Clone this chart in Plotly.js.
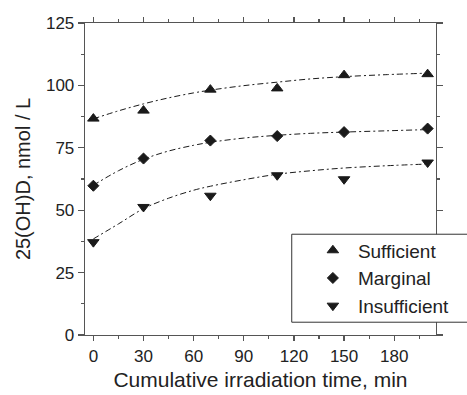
<!DOCTYPE html>
<html>
<head>
<meta charset="utf-8">
<script src="https://cdn.plot.ly/plotly-3.0.1.min.js"></script>
<style>html,body{margin:0;padding:0;background:#fff}#chart{width:467px;height:395px}</style>
</head>
<body>
<div id="chart"></div>
<script>
// Measured points
const timeMin = [0, 30, 70, 110, 150, 200];
const sufficient = [86.7, 89.9, 98.3, 98.8, 104.1, 104.5];
const marginal = [59.8, 70.7, 77.9, 79.7, 81.3, 82.7];
const insufficient = [37.2, 51.3, 55.8, 64.0, 62.4, 69.1];

// Fitted curves
const fitTime = [0, 15, 30, 45, 60, 70, 90, 110, 130, 150, 175, 200];
const sufficientFit = [86.6, 89.8, 92.6, 95.0, 97.0, 98.1, 99.9, 101.3, 102.6, 103.5, 104.3, 104.9];
const marginalFit = [60.0, 65.8, 70.4, 73.7, 76.0, 77.2, 78.9, 80.0, 80.8, 81.3, 81.8, 82.3];
const insufficientFit = [38.5, 44.5, 50.6, 54.8, 58.0, 59.6, 62.2, 64.4, 65.8, 66.9, 67.8, 68.5];

const xTicks = [0, 30, 60, 90, 120, 150, 180];
const yTicks = [0, 25, 50, 75, 100, 125];

const ink = '#1a1a1a';
const axisCol = '#555555';
const fitLine = {color: ink, width: 1, dash: '6px,3px,2px,3px', shape: 'spline'};

const traces = [
  {x: fitTime, y: sufficientFit, mode: 'lines', line: fitLine, showlegend: false, hoverinfo: 'skip'},
  {x: fitTime, y: marginalFit, mode: 'lines', line: fitLine, showlegend: false, hoverinfo: 'skip'},
  {x: fitTime, y: insufficientFit, mode: 'lines', line: fitLine, showlegend: false, hoverinfo: 'skip'},
  {x: timeMin, y: sufficient, mode: 'markers', name: 'Sufficient',
   marker: {symbol: 'triangle-up', size: 10, color: ink, line: {color: ink, width: 1}}},
  {x: timeMin, y: marginal, mode: 'markers', name: 'Marginal',
   marker: {symbol: 'diamond', size: 8.5, color: ink, line: {color: ink, width: 1}}},
  {x: timeMin, y: insufficient, mode: 'markers', name: 'Insufficient',
   marker: {symbol: 'triangle-down', size: 10, color: ink, line: {color: ink, width: 1}}}
];

const font = {family: '"Liberation Sans", Arial, sans-serif', color: '#222'};

const layout = {
  width: 467, height: 395,
  margin: {l: 85, r: 31, t: 23, b: 60},
  paper_bgcolor: '#fff', plot_bgcolor: '#fff',
  font: font,
  showlegend: true,
  xaxis: {
    range: [-5, 205], tickvals: xTicks, ticktext: xTicks.map(String),
    ticks: 'outside', ticklen: 5, tickwidth: 1.2, tickcolor: axisCol,
    minor: {dtick: 15, tick0: 15, ticks: 'outside', ticklen: 3, tickcolor: axisCol, showgrid: false},
    showline: true, linecolor: axisCol, linewidth: 1.3, mirror: 'ticks',
    showgrid: false, zeroline: false,
    tickfont: {size: 17, color: '#222'},
    title: {text: 'Cumulative irradiation time, min', font: {size: 21, color: '#222'}, standoff: 7},
    automargin: false
  },
  yaxis: {
    range: [0, 125], tickvals: yTicks, ticktext: yTicks.map(String),
    ticks: 'outside', ticklen: 6, tickwidth: 1.2, tickcolor: axisCol,
    minor: {dtick: 12.5, tick0: 12.5, ticks: 'outside', ticklen: 3, tickcolor: axisCol, showgrid: false},
    showline: true, linecolor: axisCol, linewidth: 1.3, mirror: 'ticks',
    showgrid: false, zeroline: false,
    tickfont: {size: 17, color: '#222'},
    title: {text: '25(OH)D, nmol / L', font: {size: 20, color: '#222'}, standoff: 10},
    automargin: false
  },
  shapes: [{
    type: 'rect', xref: 'paper', yref: 'paper', layer: 'above',
    x0: 0.589, x1: 1.12, y0: 0.041, y1: 0.323,
    fillcolor: '#fff', line: {color: '#333', width: 1}
  }],
  legend: {
    x: 0.635, y: 0.332, xanchor: 'left', yanchor: 'top',
    bgcolor: 'rgba(0,0,0,0)', borderwidth: 0,
    font: {size: 19, color: '#222'}, itemwidth: 40
  }
};

Plotly.newPlot('chart', traces, layout, {displayModeBar: false, staticPlot: true});
</script>
</body>
</html>
